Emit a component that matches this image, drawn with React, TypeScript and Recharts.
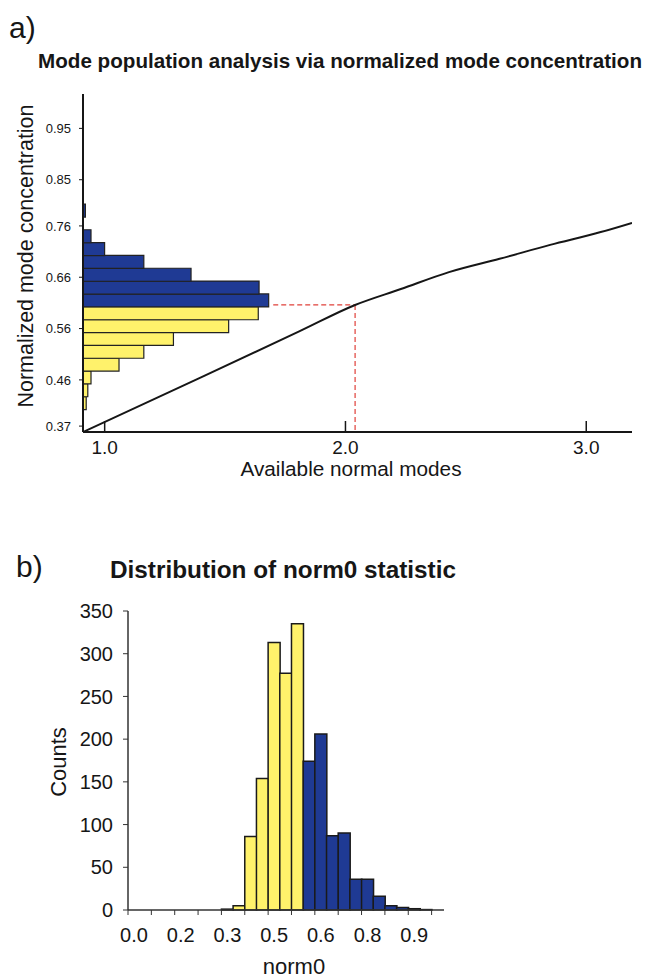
import React from "react";
import { LineChart, Line, BarChart, Bar, XAxis, YAxis, ReferenceLine, Cell } from "recharts";

// ---------- Panel a: curve (available normal modes vs normalized concentration)
const modesX = [0.91, 1.4, 1.81, 2.04, 2.23, 2.43, 2.64, 2.85, 3.06, 3.19];
const concY = [0.3585, 0.465, 0.555, 0.606, 0.637, 0.67, 0.696, 0.723, 0.748, 0.766];
const concTicks = [0.37, 0.46, 0.56, 0.66, 0.76, 0.85, 0.95];
const modeTicks = [1, 2, 3];

// ---------- Panel a: side histogram of normalized mode concentration
const concBinMid = [0.415, 0.44, 0.465, 0.49, 0.515, 0.54, 0.565, 0.59, 0.615, 0.64, 0.665, 0.69, 0.715, 0.74, 0.765, 0.79];
const concBinCount = [4, 6, 10, 45, 76, 113, 182, 219, 232, 220, 135, 76, 27, 10, 0, 3];

// peak of the histogram projected on the curve
const peakConc = 0.606;
const peakBarEnd = 1.7;
const peakModes = 2.04;

// ---------- Panel b: distribution of norm0
const normBinMid = [0.31875, 0.35625, 0.39375, 0.43125, 0.46875, 0.50625, 0.54375, 0.58125, 0.61875, 0.65625, 0.69375, 0.73125, 0.76875, 0.80625, 0.84375, 0.88125, 0.91875, 0.95625];
const normCount = [1, 5, 86, 154, 313, 277, 335, 174, 206, 87, 90, 36, 36, 16, 5, 3, 1.5, 0.5];
const normTicks = [0, 0.075, 0.15, 0.225, 0.3, 0.375, 0.45, 0.525, 0.6, 0.675, 0.75, 0.825, 0.9, 0.975];
const countTicks = [0, 50, 100, 150, 200, 250, 300, 350];

const FONT = "'Liberation Sans', Arial, Helvetica, sans-serif";
const BLUE = "#1F3A94";
const YELLOW = "#FFF26B";
const INK = "#161616";

export default function App() {
  const curveData = modesX.map((x, i) => ({ x, y: concY[i] }));
  const histA = concBinMid.map((mid, i) => ({ mid, count: concBinCount[i] }));
  const histB = normBinMid.map((mid, i) => ({ mid, count: normCount[i] }));

  return (
    <div style={{ position: "absolute", left: 0, top: 0, width: 645, height: 980, background: "#fff", overflow: "hidden", fontFamily: FONT }}>
      {/* Panel a histogram (horizontal bars) */}
      <div style={{ position: "absolute", left: 0, top: 0 }}>
        <BarChart layout="vertical" width={645} height={480} data={histA} margin={{ top: 94, right: 13, left: 83, bottom: 48 }} barCategoryGap={0}>
          <XAxis type="number" hide domain={[0, 686]} />
          <YAxis type="number" dataKey="mid" hide reversed domain={[0.3585, 1.017]} />
          <Bar dataKey="count" isAnimationActive={false} stroke="#222" strokeWidth={1.2}>
            {histA.map((d, i) => (
              <Cell key={i} fill={d.mid > 0.6 ? BLUE : YELLOW} />
            ))}
          </Bar>
        </BarChart>
      </div>
      {/* Panel a curve and axes */}
      <div style={{ position: "absolute", left: 0, top: 0 }}>
        <LineChart width={645} height={480} data={curveData} margin={{ top: 94, right: 13, left: 0, bottom: 0 }}>
          <XAxis
            type="number"
            dataKey="x"
            domain={[0.91, 3.19]}
            ticks={modeTicks}
            interval={0}
            tickFormatter={(v: number) => v.toFixed(1)}
            height={48}
            tickSize={-11}
            tickMargin={20}
            tick={{ fontSize: 19, fill: INK, fontFamily: FONT }}
            axisLine={{ stroke: INK, strokeWidth: 2 }}
            tickLine={{ stroke: INK, strokeWidth: 1.5 }}
            allowDataOverflow
          />
          <YAxis
            type="number"
            domain={[0.3585, 1.017]}
            ticks={concTicks}
            interval={0}
            tickFormatter={(v: number) => v.toFixed(2)}
            width={83}
            tickSize={4}
            tickMargin={8}
            tick={{ fontSize: 13, fill: INK, fontFamily: FONT }}
            axisLine={{ stroke: INK, strokeWidth: 2 }}
            tickLine={{ stroke: INK, strokeWidth: 1 }}
            allowDataOverflow
          />
          <XAxis xAxisId="top" orientation="top" type="number" domain={[0, 1]} height={0} tick={false} tickLine={false} axisLine={{ stroke: "#222", strokeWidth: 1.5 }} />
          <YAxis yAxisId="right" orientation="right" type="number" domain={[0, 1]} width={0} tick={false} tickLine={false} axisLine={{ stroke: "#222", strokeWidth: 1.5 }} />
          <ReferenceLine segment={[{ x: peakBarEnd, y: peakConc }, { x: peakModes, y: peakConc }]} stroke="#E0403A" strokeWidth={1.2} strokeDasharray="5 3" />
          <ReferenceLine segment={[{ x: peakModes, y: peakConc }, { x: peakModes, y: 0.3585 }]} stroke="#E0403A" strokeWidth={1.2} strokeDasharray="5 3" />
          <Line type="monotone" dataKey="y" stroke={INK} strokeWidth={2} dot={false} isAnimationActive={false} />
        </LineChart>
      </div>

      {/* Panel b */}
      <div style={{ position: "absolute", left: 0, top: 500 }}>
        <BarChart width={645} height={480} data={histB} margin={{ top: 111, right: 201, left: 0, bottom: 0 }} barCategoryGap={0}>
          <XAxis
            type="number"
            dataKey="mid"
            domain={[0, 1.0148]}
            ticks={normTicks}
            interval={0}
            tickFormatter={(v: number, i: number) => (i % 2 === 0 ? (Math.round(v * 10) / 10).toFixed(1) : "")}
            height={70}
            tickSize={5}
            tickMargin={13}
            tick={{ fontSize: 20, fill: INK, fontFamily: FONT, dx: 6 }}
            axisLine={{ stroke: "#333", strokeWidth: 1.5 }}
            tickLine={{ stroke: "#333", strokeWidth: 1 }}
            allowDataOverflow
          />
          <YAxis
            type="number"
            domain={[0, 350]}
            ticks={countTicks}
            interval={0}
            width={128}
            tickSize={5}
            tickMargin={10}
            tick={{ fontSize: 20, fill: INK, fontFamily: FONT }}
            axisLine={{ stroke: "#333", strokeWidth: 1.5 }}
            tickLine={{ stroke: "#333", strokeWidth: 1 }}
          />
          <XAxis xAxisId="top" orientation="top" type="number" domain={[0, 1]} height={0} tick={false} tickLine={false} axisLine={{ stroke: "#333", strokeWidth: 1.2 }} />
          <YAxis yAxisId="right" orientation="right" type="number" domain={[0, 1]} width={0} tick={false} tickLine={false} axisLine={{ stroke: "#333", strokeWidth: 1.2 }} />
          <Bar dataKey="count" isAnimationActive={false} stroke="#1a1a1a" strokeWidth={1.5}>
            {histB.map((d, i) => (
              <Cell key={i} fill={d.mid < 0.5625 ? YELLOW : BLUE} />
            ))}
          </Bar>
        </BarChart>
      </div>

      {/* Titles and axis names */}
      <svg width={645} height={980} style={{ position: "absolute", left: 0, top: 0, pointerEvents: "none" }} fontFamily={FONT} fill={INK}>
        <text x={9} y={38} fontSize={30}>a)</text>
        <text x={38} y={68} fontSize={20.5} fontWeight="bold" textLength={604} lengthAdjust="spacingAndGlyphs">
          Mode population analysis via normalized mode concentration
        </text>
        <text transform="translate(33,256) rotate(-90)" textAnchor="middle" fontSize={21.5} textLength={303} lengthAdjust="spacingAndGlyphs">
          Normalized mode concentration
        </text>
        <text x={351} y={476} textAnchor="middle" fontSize={20.5} textLength={221} lengthAdjust="spacingAndGlyphs">
          Available normal modes
        </text>
        <text x={16} y={577} fontSize={30}>b)</text>
        <text x={110} y={578} fontSize={24} fontWeight="bold" textLength={346} lengthAdjust="spacingAndGlyphs">
          Distribution of norm0 statistic
        </text>
        <text transform="translate(66,762) rotate(-90)" textAnchor="middle" fontSize={22}>
          Counts
        </text>
        <text x={294} y={974} textAnchor="middle" fontSize={22}>
          norm0
        </text>
      </svg>
    </div>
  );
}
